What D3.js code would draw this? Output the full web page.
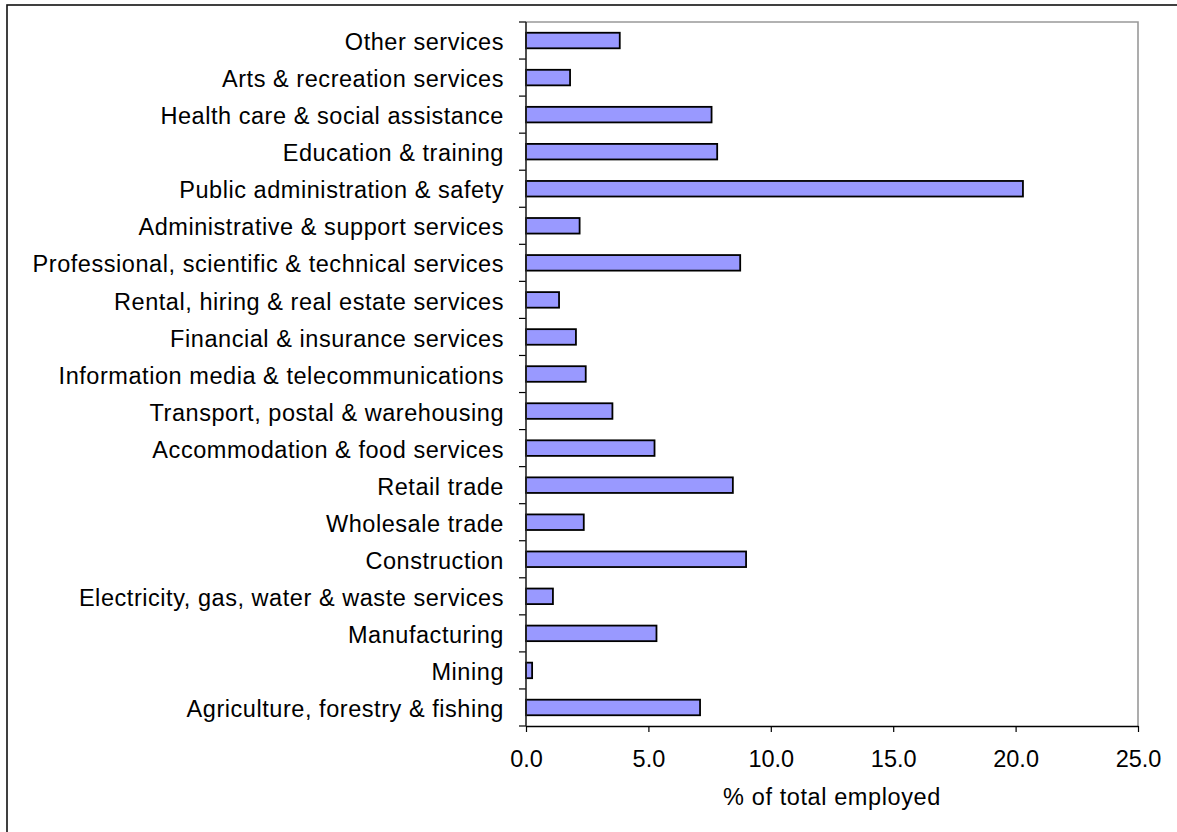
<!DOCTYPE html>
<html>
<head>
<meta charset="utf-8">
<script src="https://cdn.jsdelivr.net/npm/d3@7"></script>
<style>
  html, body { margin: 0; padding: 0; background: #fff; }
  svg { display: block; }
  text { font-family: "Liberation Sans", Arial, sans-serif; fill: #000; }
</style>
</head>
<body>
<svg id="chart" width="1177" height="832"></svg>
<script>
// Industry categories, listed top to bottom
const industries = [
  "Other services",
  "Arts & recreation services",
  "Health care & social assistance",
  "Education & training",
  "Public administration & safety",
  "Administrative & support services",
  "Professional, scientific & technical services",
  "Rental, hiring & real estate services",
  "Financial & insurance services",
  "Information media & telecommunications",
  "Transport, postal & warehousing",
  "Accommodation & food services",
  "Retail trade",
  "Wholesale trade",
  "Construction",
  "Electricity, gas, water & waste services",
  "Manufacturing",
  "Mining",
  "Agriculture, forestry & fishing"
];

// Share of total employed (%)
const sharePct = [
  3.83, 1.80, 7.58, 7.81, 20.30, 2.19, 8.75, 1.35, 2.04, 2.44,
  3.53, 5.25, 8.45, 2.36, 8.99, 1.10, 5.33, 0.25, 7.11
];

const xTicks = [0, 5, 10, 15, 20, 25];
const xTitle = "% of total employed";

const svg = d3.select("#chart");
const FONT = 23.5;

// Outer frame (runs past the right and bottom edges)
svg.append("rect")
  .attr("x", 7).attr("y", 5)
  .attr("width", 1250).attr("height", 900)
  .attr("fill", "none").attr("stroke", "#111").attr("stroke-width", 1.6);

const plot = { left: 526, right: 1138, top: 22, bottom: 726 };

const x = d3.scaleLinear().domain([0, 25]).range([plot.left, plot.right]);
const y = d3.scaleBand()
  .domain(industries)
  .range([plot.top, plot.bottom])
  .paddingInner(0.58)
  .paddingOuter(0.29);

// Plot area frame: top and right edges in gray
svg.append("path")
  .attr("d", `M${plot.left},${plot.top}H${plot.right}V${plot.bottom}`)
  .attr("fill", "none").attr("stroke", "#999").attr("stroke-width", 1.6);

// Bars
svg.append("g").selectAll("rect")
  .data(industries.map((c, i) => ({ c, v: sharePct[i] })))
  .join("rect")
  .attr("x", x(0))
  .attr("y", d => y(d.c))
  .attr("width", d => x(d.v) - x(0))
  .attr("height", y.bandwidth())
  .attr("fill", "#9999ff")
  .attr("stroke", "#000")
  .attr("stroke-width", 1.8);

// Category axis: tick marks on band boundaries
const step = y.step();
const boundaries = d3.range(industries.length + 1).map(i => plot.top + i * step);
svg.append("g").selectAll("line")
  .data(boundaries)
  .join("line")
  .attr("x1", plot.left - 7).attr("x2", plot.left)
  .attr("y1", d => d).attr("y2", d => d)
  .attr("stroke", "#000").attr("stroke-width", 1.2);

svg.append("line")
  .attr("x1", plot.left).attr("x2", plot.left)
  .attr("y1", plot.top).attr("y2", plot.bottom)
  .attr("stroke", "#222").attr("stroke-width", 1.6);

svg.append("g").selectAll("text")
  .data(industries)
  .join("text")
  .attr("x", 504)
  .attr("y", d => y(d) + y.bandwidth() / 2)
  .attr("dy", "0.41em")
  .attr("text-anchor", "end")
  .attr("font-size", FONT)
  .attr("letter-spacing", 0.55)
  .text(d => d);

// Value axis
const xAxis = svg.append("g")
  .attr("transform", `translate(0,${plot.bottom})`)
  .call(d3.axisBottom(x).tickValues(xTicks).tickFormat(d3.format(".1f")).tickSize(6).tickSizeOuter(0).tickPadding(18));
xAxis.select(".domain").attr("stroke", "#000").attr("stroke-width", 1.6);
xAxis.selectAll(".tick line").attr("stroke", "#000").attr("stroke-width", 1.2);
xAxis.selectAll(".tick text")
  .attr("font-size", FONT)
  .attr("font-family", "Liberation Sans, Arial, sans-serif")
  .attr("fill", "#000");

svg.append("text")
  .attr("x", (plot.left + plot.right) / 2)
  .attr("y", 797)
  .attr("dy", "0.36em")
  .attr("text-anchor", "middle")
  .attr("font-size", FONT)
  .attr("letter-spacing", 0.6)
  .text(xTitle);
</script>
</body>
</html>
